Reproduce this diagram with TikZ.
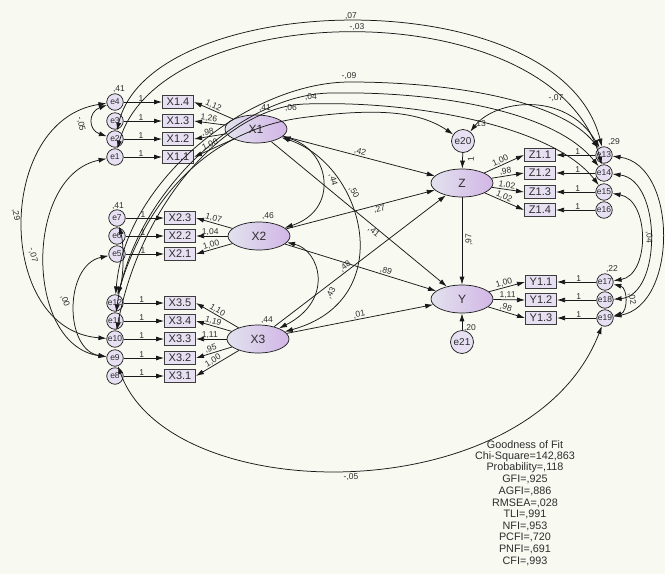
\documentclass[tikz,border=0pt]{standalone}
\usepackage{fontspec}
\setmainfont{Liberation Sans}
\usetikzlibrary{arrows.meta,shapes.geometric}
\definecolor{bg}{RGB}{248,249,241}
\definecolor{lavL}{RGB}{226,226,238}
\definecolor{lavR}{RGB}{210,182,230}
\definecolor{boxf}{RGB}{230,224,242}
\definecolor{ink}{RGB}{25,25,25}
\definecolor{txt}{RGB}{45,45,45}
\begin{document}
\begin{tikzpicture}[x=1pt,y=-1pt,
  lat/.style={ellipse, draw=ink, line width=0.7pt, left color=lavL, right color=lavR, minimum width=62pt, minimum height=28pt, inner sep=0pt, font=\fontsize{12}{12}\selectfont, text=txt},
  obs/.style={rectangle, draw=ink!85, line width=1pt, fill=boxf, minimum width=31pt, minimum height=12.5pt, inner sep=0pt, font=\fontsize{11}{11}\selectfont, text=txt},
  err/.style={circle, draw=ink, line width=0.7pt, fill=boxf, minimum size=16.5pt, inner sep=0pt, font=\fontsize{8.5}{9}\selectfont, text=txt},
  errb/.style={err, minimum size=23pt, font=\fontsize{10}{10}\selectfont},
  reg/.style={draw=ink, line width=0.75pt, -{Latex[length=8pt,width=5pt]}},
  cov/.style={draw=ink, line width=0.75pt, {Latex[length=8pt,width=5pt]}-{Latex[length=8pt,width=5pt]}},
  lab/.style={font=\fontsize{8.5}{9}\selectfont, text=txt, inner sep=0.5pt},
  fit/.style={font=\fontsize{10.8}{11}\selectfont, text=txt, inner sep=0pt}
]
\useasboundingbox (0,0) rectangle (665,574);
\fill[bg] (0,0) rectangle (665,574);

% ---------- latent variables
\node[lat] (X1) at (256,129) {X1};
\node[lat] (X2) at (259,236) {X2};
\node[lat] (X3) at (258,339) {X3};
\node[lat] (Z) at (462,183) {Z};
\node[lat] (Y) at (462,299) {Y};

% ---------- indicators
\node[obs] (X14) at (178,102) {X1.4};
\node[obs] (X13) at (178,121) {X1.3};
\node[obs] (X12) at (178,139) {X1.2};
\node[obs] (X11) at (178,157) {X1.1};
\node[obs] (X23) at (180,218) {X2.3};
\node[obs] (X22) at (180,236) {X2.2};
\node[obs] (X21) at (180,254) {X2.1};
\node[obs] (X35) at (180,303) {X3.5};
\node[obs] (X34) at (180,321) {X3.4};
\node[obs] (X33) at (180,339) {X3.3};
\node[obs] (X32) at (180,358) {X3.2};
\node[obs] (X31) at (180,376) {X3.1};
\node[obs] (Z11) at (540,155) {Z1.1};
\node[obs] (Z12) at (540,173) {Z1.2};
\node[obs] (Z13) at (540,192) {Z1.3};
\node[obs] (Z14) at (540,210) {Z1.4};
\node[obs] (Y11) at (541,282) {Y1.1};
\node[obs] (Y12) at (541,300) {Y1.2};
\node[obs] (Y13) at (541,318) {Y1.3};

% ---------- errors
\node[err] (e4) at (115,102) {e4};
\node[err] (e3) at (115,121) {e3};
\node[err] (e2) at (115,139) {e2};
\node[err] (e1) at (115,157) {e1};
\node[err] (e7) at (117,218) {e7};
\node[err] (e6) at (117,236) {e6};
\node[err] (e5) at (117,254) {e5};
\node[err] (e12) at (115,303) {e12};
\node[err] (e11) at (115,321) {e11};
\node[err] (e10) at (115,339) {e10};
\node[err] (e9) at (115,358) {e9};
\node[err] (e8) at (115,376) {e8};
\node[err] (e13) at (604,155) {e13};
\node[err] (e14) at (604,173) {e14};
\node[err] (e15) at (604,192) {e15};
\node[err] (e16) at (604,210) {e16};
\node[err] (e17) at (605,282) {e17};
\node[err] (e18) at (605,300) {e18};
\node[err] (e19) at (605,318) {e19};
\node[errb] (e20) at (463,141) {e20};
\node[errb] (e21) at (462,342) {e21};

% ---------- error -> indicator
\foreach \e/\b in {e4/X14,e3/X13,e2/X12,e1/X11,e7/X23,e6/X22,e5/X21,e12/X35,e11/X34,e10/X33,e9/X32,e8/X31,e13/Z11,e14/Z12,e15/Z13,e16/Z14,e17/Y11,e18/Y12,e19/Y13}
  \draw[reg] (\e) -- node[lab,above,pos=0.45]{1} (\b);

% ---------- loadings
\draw[reg] (X1) -- node[lab,above,sloped,pos=0.55]{1,12} (X14.east);
\draw[reg] (X1) -- node[lab,above,sloped,pos=0.55]{1,26} (X13.east);
\draw[reg] (X1) -- node[lab,above,sloped,pos=0.55]{,98} (X12.east);
\draw[reg] (X1) -- node[lab,above,sloped,pos=0.55]{1,00} (X11.east);
\draw[reg] (X2) -- node[lab,above,sloped,pos=0.55]{1,07} (X23.east);
\draw[reg] (X2) -- node[lab,above,sloped,pos=0.55]{1,04} (X22.east);
\draw[reg] (X2) -- node[lab,above,sloped,pos=0.55]{1,00} (X21.east);
\draw[reg] (X3) -- node[lab,above,sloped,pos=0.55]{1,10} (X35.east);
\draw[reg] (X3) -- node[lab,above,sloped,pos=0.55]{1,19} (X34.east);
\draw[reg] (X3) -- node[lab,above,sloped,pos=0.55]{1,11} (X33.east);
\draw[reg] (X3) -- node[lab,above,sloped,pos=0.55]{,95} (X32.east);
\draw[reg] (X3) -- node[lab,above,sloped,pos=0.55]{1,00} (X31.east);
\draw[reg] (Z) -- node[lab,above,sloped,pos=0.45]{1,00} (Z11.west);
\draw[reg] (Z) -- node[lab,above,sloped,pos=0.45]{,98} (Z12.west);
\draw[reg] (Z) -- node[lab,above,sloped,pos=0.45]{1,02} (Z13.west);
\draw[reg] (Z) -- node[lab,above,sloped,pos=0.45]{1,02} (Z14.west);
\draw[reg] (Y) -- node[lab,above,sloped,pos=0.45]{1,00} (Y11.west);
\draw[reg] (Y) -- node[lab,above,sloped,pos=0.45]{1,11} (Y12.west);
\draw[reg] (Y) -- node[lab,above,sloped,pos=0.45]{,98} (Y13.west);

% ---------- structural paths
\draw[reg] (X1) -- node[lab,above,sloped]{,42} (Z);
\draw[reg] (X1) -- node[lab,below,sloped,pos=0.6]{,41} (Y);
\draw[reg] (X2) -- node[lab,below,sloped,pos=0.62]{,27} (Z);
\draw[reg] (X2) -- node[lab,above,sloped,pos=0.66]{,89} (Y);
\draw[reg] (X3) -- node[lab,above,sloped,pos=0.43]{,48} (Z);
\draw[reg] (X3) -- node[lab,above,sloped]{,01} (Y);
\draw[reg] (Z) -- (Y);
\draw[reg] (e20) -- (Z);
\draw[reg] (e21) -- (Y);

% ---------- latent covariances
\draw[cov] (X1) .. controls (330,150) and (340,210) .. (X2);
\draw[cov] (X1) .. controls (365,165) and (400,300) .. (X3);
\draw[cov] (X2) .. controls (320,250) and (335,300) .. (X3);

% ---------- error covariances
\draw[cov] (e2) .. controls (150,-12) and (560,-22) .. (e13);
\draw[cov] (e1) .. controls (160,-5) and (555,-10) .. (e14);
\draw[cov] (e12) .. controls (125,180) and (250,82) .. (350,82) .. controls (450,82) and (560,100) .. (e13);
\draw[cov] (e11) .. controls (132,195) and (240,95) .. (330,93) .. controls (440,91) and (555,112) .. (e14);
\draw[cov] (e10) .. controls (140,205) and (225,107) .. (305,104) .. controls (420,100) and (555,128) .. (e15);
\draw[cov] (e12) .. controls (150,190) and (215,130) .. (300,118) .. controls (380,107) and (420,112) .. (e20);
\draw[cov] (e20) .. controls (495,100) and (565,90) .. (e13);
\draw[cov] (e4) .. controls (88,112) and (88,130) .. (e2);
\draw[cov] (e4) .. controls (-5,120) and (-5,330) .. (e10);
\draw[cov] (e1) .. controls (24,175) and (24,345) .. (e9);
\draw[cov] (e5) .. controls (64,265) and (64,350) .. (e9);
\draw[cov] (e7) .. controls (124,245) and (124,275) .. (e12);
\draw[cov] (e9) .. controls (170,510) and (530,512) .. (e19);
\draw[cov] (e13) .. controls (678,165) and (678,305) .. (e19);
\draw[cov] (e14) .. controls (662,180) and (662,295) .. (e18);
\draw[cov] (e15) .. controls (650,200) and (650,275) .. (e17);
\draw[cov] (e17) .. controls (628,288) and (628,312) .. (e19);

% ---------- covariance / variance labels
\node[lab] (c07) at (351,16) {,07};
\node[lab] (c03) at (357,27) {-,03};
\node[lab] (c09) at (349,76) {-,09};
\node[lab] (c04a) at (311,97) {,04};
\node[lab] (c06) at (291,108) {,06};
\node[lab] (c07b) at (556,98) {-,07};
\node[lab,rotate=-80] (c05) at (81,124) {-,05};
\node[lab,rotate=-80] (c29) at (16,215) {,29};
\node[lab,rotate=-75] (c07c) at (33,255) {-,07};
\node[lab,rotate=-70] (c00) at (65,301) {,00};
\node[lab,rotate=-90] (c04r) at (649,237) {,04};
\node[lab,rotate=-80] (c02) at (632,299) {,02};
\node[lab] (c05b) at (351,477) {-,05};
\node[lab,rotate=-75] (c44) at (333,180) {,44};
\node[lab,rotate=-60] (c50) at (354,192) {,50};
\node[lab,rotate=60] (c43) at (331,293) {,43};
\node[lab,rotate=90] (c97) at (469,240) {,97};
\node[lab,rotate=90] (l20) at (471,159) {1};
\node[lab] (v4) at (119,89) {,41};
\node[lab] (v7) at (118,206) {,41};
\node[lab] (vX1) at (265,108) {,41};
\node[lab] (vX2) at (268,216) {,46};
\node[lab] (vX3) at (267,320) {,44};
\node[lab] (v20) at (480,124) {,13};
\node[lab] (v21) at (470,328) {,20};
\node[lab] (v13) at (614,142) {,29};
\node[lab] (v17) at (612,269) {,22};

% ---------- fit indices
\node[fit] (g0) at (525,445) {Goodness of Fit};
\node[fit] (g1) at (525,456.6) {Chi-Square=142,863};
\node[fit] (g2) at (525,468.2) {Probability=,118};
\node[fit] (g3) at (525,479.8) {GFI=,925};
\node[fit] (g4) at (525,491.4) {AGFI=,886};
\node[fit] (g5) at (525,503) {RMSEA=,028};
\node[fit] (g6) at (525,514.6) {TLI=,991};
\node[fit] (g7) at (525,526.2) {NFI=,953};
\node[fit] (g8) at (525,537.8) {PCFI=,720};
\node[fit] (g9) at (525,549.4) {PNFI=,691};
\node[fit] (g10) at (525,561) {CFI=,993};
\end{tikzpicture}
\end{document}
